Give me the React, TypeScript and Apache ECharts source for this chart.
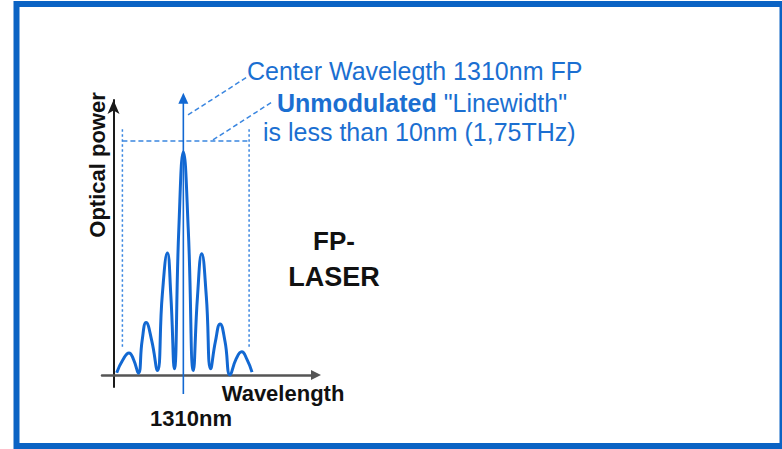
import React, { useEffect, useRef } from "react";
import * as echarts from "echarts";

// FP laser spectrum: wavelength (nm) vs. normalised optical power
const wavelengthNm = [
  1304.74, 1305.23, 1305.71, 1306.08, 1306.45, 1306.75, 1307.06, 1307.5,
  1307.95, 1308.34, 1308.74, 1309.01, 1309.29, 1309.64, 1310.0, 1310.39,
  1310.79, 1311.12, 1311.45, 1311.81, 1312.16, 1312.53, 1312.9, 1313.29,
  1313.69, 1314.15, 1314.61, 1315.02, 1315.42,
];
const opticalPower = [
  0.01, 0.068, 0.099, 0.068, 0.008, 0.155, 0.235, 0.155,
  0.02, 0.36, 0.547, 0.36, 0.028, 0.65, 1.0, 0.65,
  0.02, 0.355, 0.543, 0.355, 0.028, 0.15, 0.229, 0.15,
  0.0, 0.07, 0.104, 0.07, 0.013,
];

// Axis extents (data units)
const xRange = [1303.58, 1320.47];
const yRange = [-0.054, 1.233];

// Annotation segments: [x1, y1, x2, y2, kind]  kind 0 = dotted, 1 = dashed, 2 = arrow
const linewidthBounds = [1305.19, 1315.19];
const guideSegments = [
  [linewidthBounds[0], 0.126, linewidthBounds[0], 1.108, 0],
  [linewidthBounds[1], 0.126, linewidthBounds[1], 1.108, 0],
  [linewidthBounds[0], 1.049, linewidthBounds[1], 1.049, 1],
  [1310.37, 1.166, 1315.03, 1.336, 1],
  [1312.34, 1.054, 1317.0, 1.224, 1],
  [1310.0, -0.085, 1310.0, 1.265, 2],
];

const centerText = "Center Wavelegth 1310nm FP";
const linewidthBold = "Unmodulated";
const linewidthRest = ' "Linewidth"';
const linewidthText2 = "is less than 10nm (1,75THz)";
const yName = "Optical power";
const xName = "Wavelength";
const centerLabel = "1310nm";
const laserLine1 = "FP-";
const laserLine2 = "LASER";

const BLUE_TEXT = "#1b6fd1";
const BLUE_LINE = "#1268d2";
const BLUE_DASH = "#3a86e0";
const FONT = "'Liberation Sans', Arial, sans-serif";

export default function App() {
  const ref = useRef<HTMLDivElement>(null);

  useEffect(() => {
    const chart = echarts.init(ref.current!, null, { renderer: "svg" });
    chart.setOption({
      animation: false,
      backgroundColor: "#ffffff",
      grid: { left: 102, right: 466, top: 100, bottom: 62 },
      xAxis: {
        type: "value",
        min: xRange[0],
        max: xRange[1],
        axisLine: {
          show: true,
          onZero: true,
          symbol: ["none", "triangle"],
          symbolSize: [10, 10],
          lineStyle: { color: "#555555", width: 2.5 },
        },
        axisTick: { show: false },
        axisLabel: { show: false },
        splitLine: { show: false },
      },
      yAxis: {
        type: "value",
        min: yRange[0],
        max: yRange[1],
        offset: -11.5,
        axisLine: {
          show: true,
          onZero: false,
          symbol: ["none", "arrow"],
          symbolSize: [9, 14],
          lineStyle: { color: "#1a1a1a", width: 2 },
        },
        axisTick: { show: false },
        axisLabel: { show: false },
        splitLine: { show: false },
      },
      series: [
        {
          type: "custom",
          data: guideSegments,
          clip: false,
          z: 2,
          silent: true,
          renderItem: (_params: any, api: any) => {
            const a = api.coord([api.value(0), api.value(1)]);
            const b = api.coord([api.value(2), api.value(3)]);
            const kind = api.value(4);
            if (kind === 2) {
              return {
                type: "group",
                children: [
                  {
                    type: "line",
                    shape: { x1: a[0], y1: a[1], x2: b[0], y2: b[1] + 6 },
                    style: { stroke: BLUE_LINE, lineWidth: 1.6 },
                  },
                  {
                    type: "polygon",
                    shape: {
                      points: [
                        [b[0], b[1]],
                        [b[0] - 5, b[1] + 11],
                        [b[0] + 5, b[1] + 11],
                      ],
                    },
                    style: { fill: BLUE_LINE },
                  },
                ],
              };
            }
            return {
              type: "line",
              shape: { x1: a[0], y1: a[1], x2: b[0], y2: b[1] },
              style: {
                stroke: BLUE_DASH,
                lineWidth: 1.5,
                lineDash: kind === 0 ? [2.5, 2.5] : [5, 3],
              },
            };
          },
        },
        {
          type: "line",
          data: wavelengthNm.map((x, i) => [x, opticalPower[i]]),
          smooth: 0.5,
          symbol: "none",
          clip: false,
          z: 3,
          lineStyle: { color: BLUE_LINE, width: 3 },
        },
      ],
      graphic: [
        {
          type: "rect",
          shape: { x: 16.5, y: 4, width: 766, height: 442 },
          style: { fill: "none", stroke: "#0b63c4", lineWidth: 6 },
          z: 10,
        },
        {
          type: "text",
          x: 247,
          y: 71,
          style: {
            text: centerText,
            fontFamily: FONT,
            fontSize: 25,
            fill: BLUE_TEXT,
            textAlign: "left",
            textVerticalAlign: "middle",
          },
        },
        {
          type: "text",
          x: 277,
          y: 103,
          style: {
            text: `{b|${linewidthBold}}${linewidthRest}`,
            fontFamily: FONT,
            fontSize: 25,
            fill: BLUE_TEXT,
            textAlign: "left",
            textVerticalAlign: "middle",
            rich: {
              b: { fontFamily: FONT, fontSize: 25, fontWeight: "bold", fill: BLUE_TEXT },
            },
          },
        },
        {
          type: "text",
          x: 263,
          y: 132,
          style: {
            text: linewidthText2,
            fontFamily: FONT,
            fontSize: 25,
            fill: BLUE_TEXT,
            textAlign: "left",
            textVerticalAlign: "middle",
          },
        },
        {
          type: "text",
          x: 97,
          y: 165,
          rotation: Math.PI / 2,
          style: {
            text: yName,
            fontFamily: FONT,
            fontSize: 22,
            fontWeight: "bold",
            fill: "#111111",
            textAlign: "center",
            textVerticalAlign: "middle",
          },
        },
        {
          type: "text",
          x: 221.7,
          y: 393,
          style: {
            text: xName,
            fontFamily: FONT,
            fontSize: 22,
            fontWeight: "bold",
            fill: "#111111",
            textAlign: "left",
            textVerticalAlign: "middle",
          },
        },
        {
          type: "text",
          x: 150,
          y: 418,
          style: {
            text: centerLabel,
            fontFamily: FONT,
            fontSize: 22,
            fontWeight: "bold",
            fill: "#111111",
            textAlign: "left",
            textVerticalAlign: "middle",
          },
        },
        {
          type: "text",
          x: 334,
          y: 241.3,
          style: {
            text: laserLine1,
            fontFamily: FONT,
            fontSize: 26,
            fontWeight: "bold",
            fill: "#111111",
            textAlign: "center",
            textVerticalAlign: "middle",
          },
        },
        {
          type: "text",
          x: 334,
          y: 276.7,
          style: {
            text: laserLine2,
            fontFamily: FONT,
            fontSize: 27,
            fontWeight: "bold",
            fill: "#111111",
            textAlign: "center",
            textVerticalAlign: "middle",
          },
        },
      ],
    });
    return () => chart.dispose();
  }, []);

  return (
    <div
      ref={ref}
      style={{ position: "fixed", left: 0, top: 0, width: 782, height: 449, background: "#ffffff" }}
    />
  );
}
